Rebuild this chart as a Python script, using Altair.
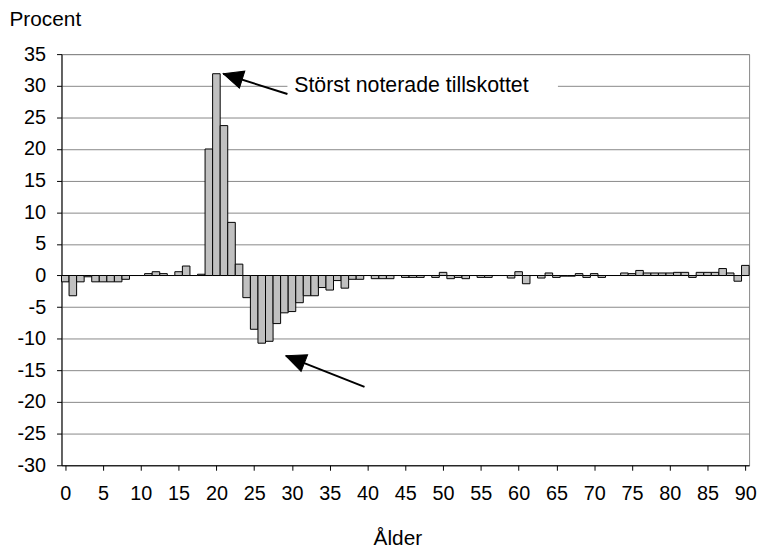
import math
import altair as alt
import pandas as pd

# ---- data ----
ages = list(range(0, 91))
values = [
    -1.0, -3.2, -1.0, -0.2, -1.0, -1.0, -1.0, -1.0, -0.6, 0.0,   # 0-9
    0.0, 0.3, 0.6, 0.3, 0.0, 0.6, 1.5, 0.0, 0.2, 20.0,          # 10-19
    31.9, 23.7, 8.4, 1.8, -3.5, -8.5, -10.7, -10.4, -7.6, -5.9,  # 20-29
    -5.7, -4.3, -3.2, -3.2, -1.9, -2.3, -0.8, -2.0, -0.6, -0.6,  # 30-39
    0.0, -0.5, -0.5, -0.5, 0.0, -0.3, -0.3, -0.3, 0.0, -0.3,     # 40-49
    0.5, -0.5, -0.3, -0.5, 0.0, -0.3, -0.3, 0.0, 0.0, -0.4,      # 50-59
    0.6, -1.3, 0.0, -0.4, 0.4, -0.3, -0.1, -0.1, 0.3, -0.3,      # 60-69
    0.3, -0.3, 0.0, 0.0, 0.4, 0.3, 0.8, 0.4, 0.4, 0.4,           # 70-79
    0.4, 0.5, 0.5, -0.3, 0.5, 0.5, 0.5, 1.1, 0.4, -0.9,          # 80-89
    1.6,                                                         # 90
]
x_ticks = list(range(0, 91, 5))
y_ticks = list(range(-30, 36, 5))

annotation_text = ["Störst noterade tillskottet"]

# annotation geometry in data units (age, percent)
arrow_tail_x = [29.4, 39.6]
arrow_tail_y = [28.7, -17.6]
arrow_tip_x = [20.9, 29.2]
arrow_tip_y = [31.9, -12.7]
label_box = dict(x0=29.4, x1=65.2, y0=28.6, y1=31.4)
label_pos = dict(x=30.3, y=30)

# ---- layout ----
W, H = 694, 415
X_DOM = [-0.5, 90.5]
Y_DOM = [-30, 35]
FONT = "Liberation Sans"

xs = alt.Scale(domain=X_DOM, nice=False, zero=False)
ys = alt.Scale(domain=Y_DOM, nice=False, zero=False)

ax_x = alt.Axis(values=x_ticks, title="Ålder", grid=False,
                labelOverlap=False, labelExpr="'' + datum.value",
                domainColor="black", tickColor="black", tickSize=5,
                labelPadding=14, labelFontSize=20, labelFont=FONT,
                labelColor="black", labelFlush=False,
                titleFont=FONT, titleFontSize=21, titleFontWeight="normal",
                titleColor="black", titleX=339, titleY=74,
                titleBaseline="middle", titleAnchor="start", titleAlign="center")
ax_y = alt.Axis(values=y_ticks, title="Procent", grid=True,
                labelOverlap=False, labelExpr="'' + datum.value",
                gridColor="#888888", gridWidth=1, gridOpacity=1,
                domainColor="black", tickColor="black", tickSize=5,
                labelPadding=11, labelFontSize=20, labelFont=FONT,
                labelColor="black",
                titleFont=FONT, titleFontSize=21, titleFontWeight="normal",
                titleColor="black", titleAngle=0, titleX=-53, titleY=-35,
                titleAlign="left", titleBaseline="middle", titleAnchor="start")

df = pd.DataFrame({"age": ages, "value": values})

bars = alt.Chart(df).transform_calculate(
    x0="datum.age - 0.5", x1="datum.age + 0.5"
).mark_rect(fill="#c0c0c0", stroke="black", strokeWidth=1).encode(
    x=alt.X("x0:Q", scale=xs, axis=ax_x, title="Ålder"),
    x2="x1:Q",
    y=alt.Y("value:Q", scale=ys, axis=ax_y, title="Procent"),
    y2=alt.datum(0),
)

box_df = pd.DataFrame([label_box])
box = alt.Chart(box_df).mark_rect(fill="white", stroke=None).encode(
    x=alt.X("x0:Q", scale=xs, axis=ax_x, title="Ålder"), x2="x1:Q",
    y=alt.Y("y0:Q", scale=ys, axis=ax_y, title="Procent"), y2="y1:Q",
)

txt_df = pd.DataFrame({"x": [label_pos["x"]], "y": [label_pos["y"]], "t": annotation_text})
txt = alt.Chart(txt_df).mark_text(
    align="left", baseline="middle", font=FONT, fontSize=21.5, color="black"
).encode(x=alt.X("x:Q", scale=xs, axis=ax_x, title="Ålder"),
         y=alt.Y("y:Q", scale=ys, axis=ax_y, title="Procent"), text="t:N")

# arrows
px_x = W / (X_DOM[1] - X_DOM[0])
px_y = H / (Y_DOM[1] - Y_DOM[0])
angles = []
for tx, ty, hx, hy in zip(arrow_tail_x, arrow_tail_y, arrow_tip_x, arrow_tip_y):
    dx = (hx - tx) * px_x
    dy = -(hy - ty) * px_y
    angles.append((math.degrees(math.atan2(dx, -dy)) + 360) % 360)

arr_df = pd.DataFrame({"x": arrow_tail_x, "y": arrow_tail_y,
                       "x2": arrow_tip_x, "y2": arrow_tip_y, "ang": angles})
shafts = alt.Chart(arr_df).mark_rule(color="black", strokeWidth=2).encode(
    x=alt.X("x:Q", scale=xs, axis=ax_x, title="Ålder"),
    y=alt.Y("y:Q", scale=ys, axis=ax_y, title="Procent"),
    x2="x2:Q", y2="y2:Q",
)
heads = alt.Chart(arr_df).mark_point(
    shape="M0,0 L0.45,1 L-0.45,1 Z", size=1600, filled=True,
    fill="black", stroke="black", strokeWidth=1, opacity=1,
).encode(
    x=alt.X("x2:Q", scale=xs, axis=ax_x, title="Ålder"),
    y=alt.Y("y2:Q", scale=ys, axis=ax_y, title="Procent"),
    angle=alt.Angle("ang:Q", scale=None),
)

chart = alt.layer(bars, box, txt, shafts, heads).properties(
    width=W, height=H,
    padding={"left": 54, "top": 44, "right": 10, "bottom": 87},
    autosize=alt.AutoSizeParams(type="none"),
    background="white",
).configure_view(stroke="#888888", strokeWidth=1)

chart.save("out.html", embed_options={"renderer": "svg", "actions": False})
